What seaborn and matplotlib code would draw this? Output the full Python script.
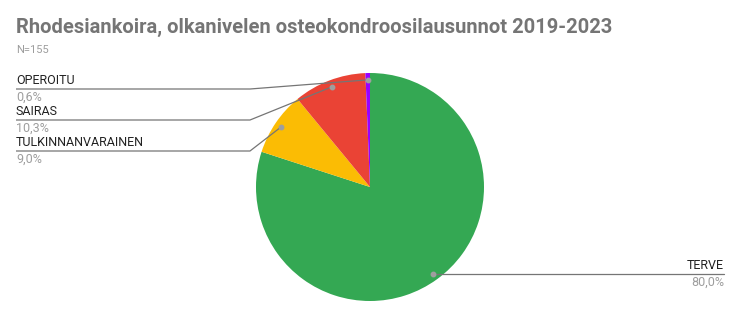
import numpy as np
import matplotlib
matplotlib.use("Agg")
import matplotlib.pyplot as plt
import seaborn as sns

# Data
categories = ["TERVE", "TULKINNANVARAINEN", "SAIRAS", "OPEROITU"]
counts = [124, 14, 16, 1]
colors = ["#34a853", "#fbbc04", "#ea4335", "#9900ff"]
title = "Rhodesiankoira, olkanivelen osteokondroosilausunnot 2019-2023"
subtitle = "N=155"

sns.set_theme(style="white")
plt.rcParams['font.family'] = ['Roboto', 'DejaVu Sans']

W, H = 740, 317
fig = plt.figure(figsize=(W / 100, H / 100), dpi=100)
ax = fig.add_axes([0, 0, 1, 1])
ax.set_xlim(0, W)
ax.set_ylim(0, H)
ax.set_aspect('equal')
ax.axis('off')

def Y(y):
    return H - y

cx, cy, R = 370, 187, 114
wedges, _ = ax.pie(counts, colors=sns.color_palette(colors), startangle=90,
                   counterclock=False, center=(cx, Y(cy)), radius=R,
                   wedgeprops=dict(linewidth=0))
ax.set_xlim(0, W)
ax.set_ylim(0, H)

total = sum(counts)
pcts = [f"{100 * c / total:.1f}%".replace(".", ",") for c in counts]

line_c = "#757575"
dot_c = "#9e9e9e"
fs = 9
# label layout: (line y, elbow x, end x, side)
layout = {
    "OPEROITU": (89, 250, 16, "left"),
    "SAIRAS": (120, 250, 16, "left"),
    "TULKINNANVARAINEN": (151, 250, 16, "left"),
    "TERVE": (274, None, 724, "right"),
}
for w, cat, pct in zip(wedges, categories, pcts):
    mid = np.deg2rad((w.theta1 + w.theta2) / 2)
    r = 0.94 * R
    px = cx + r * np.cos(mid)
    py = Y(cy) + r * np.sin(mid)
    ly, ex, endx, side = layout[cat]
    ha = 'left' if side == "left" else 'right'
    if side == "left":
        ax.plot([px, ex, endx], [py, Y(ly), Y(ly)], color=line_c, lw=0.9,
                solid_capstyle='butt', zorder=3)
        dy = py
    else:
        ax.plot([px, endx], [Y(ly), Y(ly)], color=line_c, lw=0.9, zorder=3)
        dy = Y(ly)
    ax.text(endx, Y(ly - 8.5), cat, ha=ha, va='center', fontsize=fs, color="#222222")
    ax.text(endx, Y(ly + 8.5), pct, ha=ha, va='center', fontsize=fs, color=dot_c)
    ax.plot([px], [dy], 'o', ms=3.2, color=dot_c, zorder=4)

ax.text(16, Y(27), title, ha='left', va='center', fontsize=14.5, fontweight='bold',
        color="#757575")
ax.text(16, Y(50), subtitle, ha='left', va='center', fontsize=8, color="#9e9e9e")

fig.savefig("out.png", dpi=100)
